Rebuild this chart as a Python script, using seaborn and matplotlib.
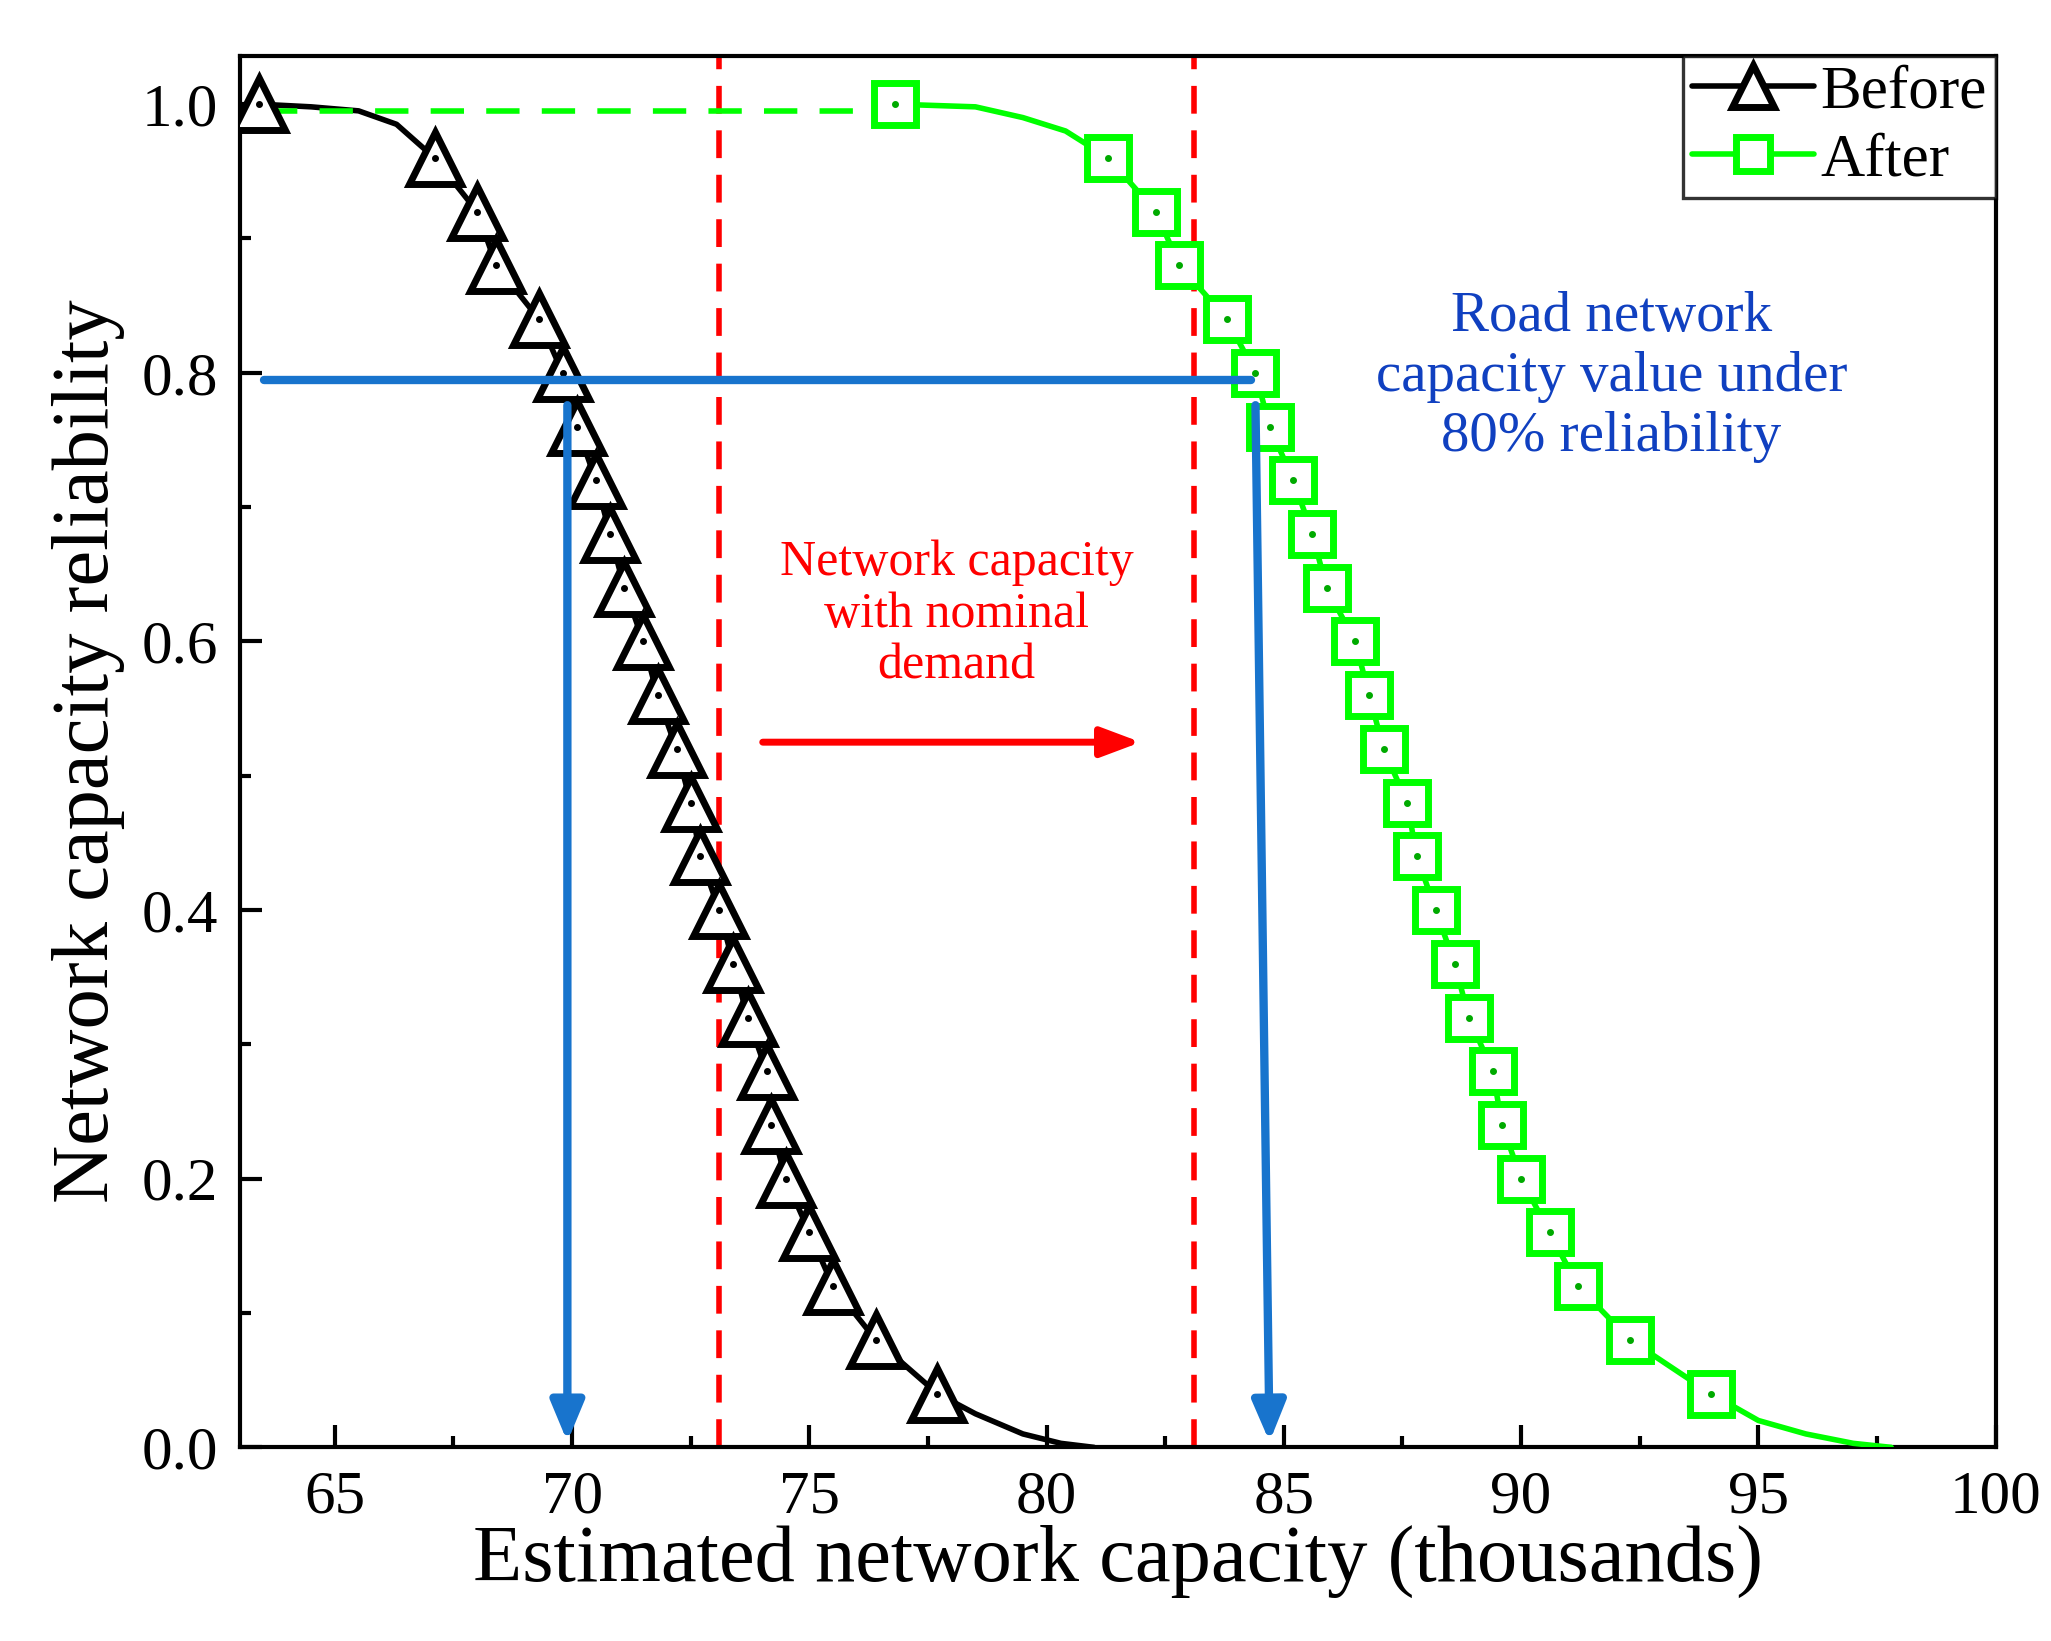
import numpy as np
import matplotlib.pyplot as plt
import seaborn as sns
from matplotlib.ticker import MultipleLocator

# reliability levels shared by the marker points
rel = [0.96, 0.92, 0.88, 0.84, 0.80, 0.76, 0.72, 0.68, 0.64, 0.60, 0.56, 0.52,
       0.48, 0.44, 0.40, 0.36, 0.32, 0.28, 0.24, 0.20, 0.16, 0.12, 0.08, 0.04]
before_x = [67.1, 68.0, 68.4, 69.3, 69.8, 70.1, 70.5, 70.8, 71.1, 71.5, 71.8, 72.2,
            72.5, 72.7, 73.1, 73.4, 73.7, 74.1, 74.2, 74.5, 75.0, 75.5, 76.4, 77.7]
after_x = [81.3, 82.3, 82.8, 83.8, 84.4, 84.7, 85.2, 85.6, 85.9, 86.5, 86.8, 87.1,
           87.6, 87.8, 88.2, 88.6, 88.9, 89.4, 89.6, 90.0, 90.6, 91.2, 92.3, 94.0]
before_head_x, before_head_y = [63.4, 64.5, 65.5, 66.3], [1.0, 0.998, 0.995, 0.985]
before_tail_x, before_tail_y = [78.5, 79.5, 80.3, 81.0], [0.025, 0.01, 0.003, 0.0]
after_head_x, after_head_y = [76.8, 78.5, 79.5, 80.4], [1.0, 0.998, 0.99, 0.98]
after_tail_x, after_tail_y = [95.0, 96.0, 97.0, 97.8], [0.02, 0.01, 0.003, 0.0]

sns.set_style('ticks')
plt.rcParams['font.family'] = ['Liberation Serif', 'DejaVu Serif']
plt.rcParams['text.color'] = 'black'
plt.rcParams['axes.labelcolor'] = 'black'
plt.rcParams['xtick.color'] = 'black'
plt.rcParams['ytick.color'] = 'black'

fig = plt.figure(figsize=(10.255, 8.205), dpi=200)
ax = fig.add_axes([0.117, 0.118, 0.856, 0.848])

bx = before_head_x + before_x + before_tail_x
by = before_head_y + rel + before_tail_y
ax_ = after_head_x + after_x + after_tail_x
ay = after_head_y + rel + after_tail_y

ax.plot(bx, by, color='black', lw=2, zorder=3)
ax.plot([before_head_x[0]] + before_x, [before_head_y[0]] + rel, ls='none', marker='^',
        ms=19, mfc='white', mec='black', mew=2.5, zorder=4)
ax.plot([before_head_x[0]] + before_x, [before_head_y[0]] + rel, ls='none', marker='.',
        ms=3, color='black', zorder=5)

ax.plot([63.5, 76.8], [0.995, 0.995], color='#00ff00', lw=2, ls=(0, (6, 4)), zorder=3)
ax.plot(ax_, ay, color='#00ff00', lw=2, zorder=3)
ax.plot([after_head_x[0]] + after_x, [after_head_y[0]] + rel, ls='none', marker='s',
        ms=15, mfc='white', mec='#00ff00', mew=2.5, zorder=4)
ax.plot([after_head_x[0]] + after_x, [after_head_y[0]] + rel, ls='none', marker='.',
        ms=3, color='#00aa00', zorder=5)

# legend proxies
ax.plot([], [], color='black', lw=2, marker='^', ms=15, mfc='white', mec='black',
        mew=2.5, label='Before')
ax.plot([], [], color='#00ff00', lw=2, marker='s', ms=12, mfc='white', mec='#00ff00',
        mew=2.5, label='After')
leg = ax.legend(loc='upper right', fontsize=22, frameon=True, fancybox=False,
                edgecolor='black', handlelength=2.0, handletextpad=0.1,
                borderpad=0.15, labelspacing=0.2, borderaxespad=0.0)
leg.get_frame().set_linewidth(1.2)

blue = '#1874cd'
ax.plot([63.5, 84.3], [0.795, 0.795], color=blue, lw=3, zorder=6)
ax.annotate('', xy=(69.9, 0.0), xytext=(69.9, 0.78),
            arrowprops=dict(arrowstyle='-|>,head_width=0.5,head_length=1.2', color=blue, lw=3), zorder=6)
ax.annotate('', xy=(84.7, 0.0), xytext=(84.4, 0.78),
            arrowprops=dict(arrowstyle='-|>,head_width=0.5,head_length=1.2', color=blue, lw=3), zorder=6)

for xv in [73.1, 83.1]:
    ax.axvline(xv, color='red', lw=2, ls=(0, (5, 3)), zorder=2)
ax.annotate('', xy=(82.1, 0.525), xytext=(73.9, 0.525),
            arrowprops=dict(arrowstyle='-|>,head_width=0.45,head_length=1.2', color='red', lw=2.5))

ax.text(78.1, 0.62, 'Network capacity\nwith nominal\ndemand', color='red', fontsize=18,
        ha='center', va='center', linespacing=1.15)
ax.text(91.9, 0.797, 'Road network\ncapacity value under\n80% reliability', color='#1040c0',
        fontsize=20.5, ha='center', va='center', linespacing=1.2)

ax.set_xlim(63, 100)
ax.set_ylim(0, 1.036)
ax.xaxis.set_major_locator(MultipleLocator(5))
ax.xaxis.set_minor_locator(MultipleLocator(2.5))
ax.yaxis.set_major_locator(MultipleLocator(0.2))
ax.yaxis.set_minor_locator(MultipleLocator(0.1))
ax.yaxis.set_major_formatter(plt.FuncFormatter(lambda v, p: f'{v:.1f}'))
ax.tick_params(which='major', direction='in', length=8, width=1.5, labelsize=22, pad=8)
ax.tick_params(which='minor', direction='in', length=4, width=1.5)
for s in ax.spines.values():
    s.set_linewidth(1.5)
    s.set_color('black')
ax.set_xlabel('Estimated network capacity (thousands)', fontsize=29, labelpad=0)
ax.set_ylabel('Network capacity reliability', fontsize=29, labelpad=6)

fig.savefig('out.png', dpi=200)
